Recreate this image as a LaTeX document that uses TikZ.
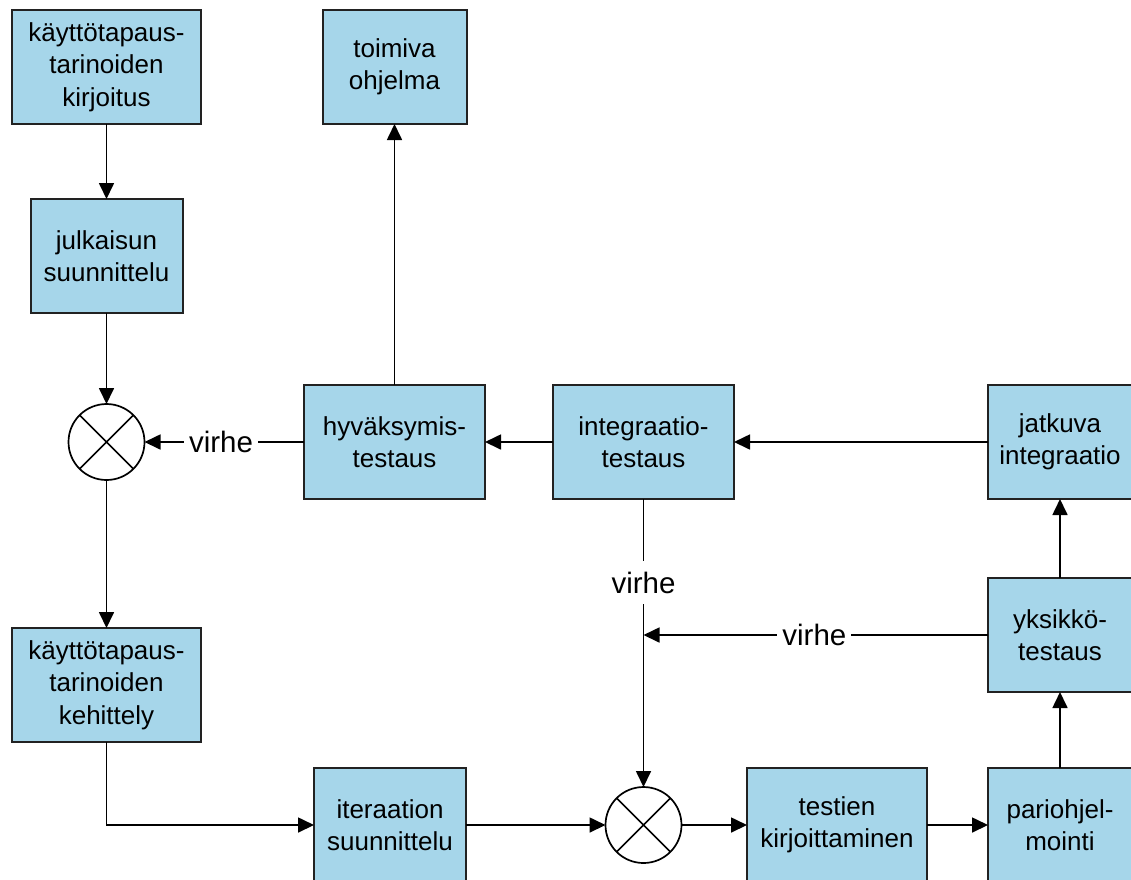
\documentclass[tikz,border=0pt]{standalone}
\usepackage{fontspec}
\setmainfont{Liberation Sans}
\usetikzlibrary{arrows.meta}
\definecolor{boxfill}{RGB}{166,214,234}
\definecolor{boxline}{RGB}{34,34,34}
\begin{document}
\begin{tikzpicture}[x=1pt,y=-1pt,
  box/.style={draw=boxline, line width=2pt, fill=boxfill, align=center,
    inner sep=0pt, outer sep=0pt, minimum height=114pt,
    font=\fontsize{26}{32.5}\selectfont},
  mergept/.style={draw, circle, line width=1.7pt, minimum size=76pt,
    inner sep=0pt, outer sep=0pt},
  flow/.style={line width=1.7pt, -{Triangle[length=16pt,width=15pt]}},
  lab/.style={fill=white, inner xsep=5pt, inner ysep=11pt,
    font=\fontsize{29.5}{33}\selectfont}]
\useasboundingbox (0,0) rectangle (1131,879);
\clip (0,0) rectangle (1131,879);

% process steps
\node[box, minimum width=189pt] (kirj) at (106.5,67) {käyttötapaus-\\tarinoiden\\kirjoitus};
\node[box, minimum width=144pt] (toim) at (394.5,67) {toimiva\\ohjelma};
\node[box, minimum width=152pt] (julk) at (106.5,256) {julkaisun\\suunnittelu};
\node[box, minimum width=181pt] (hyv) at (394.5,442) {hyväksymis-\\testaus};
\node[box, minimum width=181pt] (integ) at (643.5,442) {integraatio-\\testaus};
\node[box, minimum width=144pt] (jatk) at (1060,442) {jatkuva\\integraatio};
\node[box, minimum width=144pt] (yks) at (1060,635) {yksikkö-\\testaus};
\node[box, minimum width=189pt] (keh) at (106.5,685) {käyttötapaus-\\tarinoiden\\kehittely};
\node[box, minimum width=152pt] (iter) at (390,825) {iteraation\\suunnittelu};
\node[box, minimum width=180pt] (test) at (837,825) {testien\\kirjoittaminen};
\node[box, minimum width=144pt] (pari) at (1060,825) {pariohjel-\\mointi};

% merge points
\node[mergept] (m1) at (106.5,442) {};
\node[mergept] (m2) at (643.5,825) {};
\foreach \m in {m1,m2}{
  \draw[line width=1.7pt] (\m.45) -- (\m.225) (\m.135) -- (\m.-45);
}

% release loop
\draw[flow] (kirj.south) -- (julk.north);
\draw[flow] (julk.south) -- (m1.north);
\draw[flow] (m1.south) -- (keh.north);
\draw[flow] (keh.south) |- (iter.west);
\draw[flow] (hyv.west) -- node[lab, pos=0.52]{virhe} (m1.east);
\draw[flow] (hyv.north) -- (toim.south);

% iteration loop
\draw[flow] (iter.east) -- (m2.west);
\draw[flow] (m2.east) -- (test.west);
\draw[flow] (test.east) -- (pari.west);
\draw[flow] (pari.north) -- (yks.south);
\draw[flow] (yks.north) -- (jatk.south);
\draw[flow] (jatk.west) -- (integ.east);
\draw[flow] (integ.west) -- (hyv.east);
\draw[flow] (integ.south) -- node[lab, pos=0.29]{virhe} (m2.north);
\coordinate (back) at (integ.south |- yks.west);
\draw[flow] (yks.west) -- node[lab, pos=0.504]{virhe} (back);
\end{tikzpicture}
\end{document}
